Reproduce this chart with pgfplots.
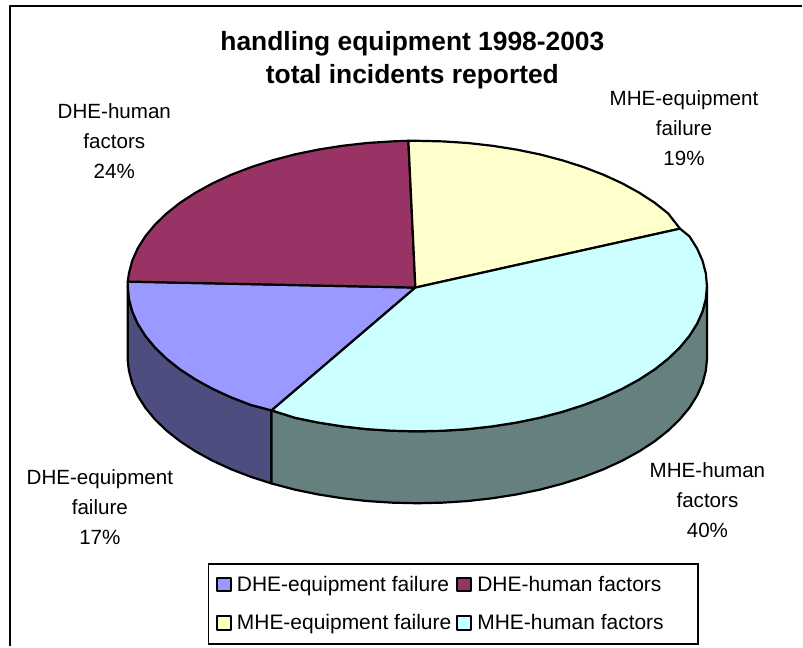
\documentclass[border=0pt]{standalone}
\usepackage{pgfplots}
\usepackage{fontspec}
\setmainfont{Liberation Sans}
\pgfplotsset{compat=1.18}
\definecolor{deq}{HTML}{9999FF}
\definecolor{dhu}{HTML}{993366}
\definecolor{meq}{HTML}{FFFFCC}
\definecolor{mhu}{HTML}{CCFFFF}
\definecolor{deqw}{HTML}{4D4D80}
\definecolor{mhuw}{HTML}{668080}
\begin{document}
\begin{tikzpicture}[x=1pt,y=1pt]
\begin{axis}[
  scale only axis, width=803pt, height=647pt,
  xmin=0, xmax=803, ymin=0, ymax=647, y dir=reverse,
  hide axis, clip=false,
  legend columns=2,
  legend cell align=left,
  legend style={at={(axis cs:208,564)}, anchor=north west, draw=black, line width=1.5pt,
    inner xsep=7.5pt, inner ysep=10.5pt,
    font=\fontsize{21}{24}\selectfont,
    nodes={inner xsep=3.5pt, inner ysep=2pt, text depth=0.2em},
    row sep=17pt,
    column sep=1.5pt},
  legend image code/.code={\draw[#1, line width=2pt, draw=black] (0pt,-6.5pt) rectangle (14pt,7.5pt);},
  every axis plot/.append style={draw=black, line width=2.2pt, line join=round},
]
\path (axis cs:0,0) rectangle (axis cs:803,647);
% frame
\addplot[forget plot, line width=2.4pt, line cap=butt] coordinates {(10,647) (10,6) (803,6)};
% wall DHE-equipment failure
\addplot[forget plot, fill=deqw] coordinates {(128,286.5)(128,362)(129.1,371.2)(132.4,383.8)(137.9,396.2)(145.5,408.3)(155.2,420)(166.9,431.3)(180.4,442)(195.8,452)(212.9,461.4)(231.6,470)(251.7,477.7)(272,484.2)(272,411)(251.7,405.7)(231.6,398)(212.9,389.4)(195.8,380)(180.4,370)(166.9,359.3)(155.2,348)(145.5,336.3)(137.9,324.2)(132.4,311.8)(129.1,299.2)} --cycle;
% wall MHE-human factors
\addplot[forget plot, fill=mhuw] coordinates {(272,411)(272,484.2)(295.4,490.4)(318.8,495.2)(342.9,499)(367.6,501.8)(392.7,503.4)(418,504)(443.3,503.4)(468.4,501.8)(493.1,499)(517.2,495.2)(540.6,490.4)(563,484.5)(584.3,477.7)(604.4,470)(623.1,461.4)(640.2,452)(655.6,442)(669.1,431.3)(680.8,420)(690.5,408.3)(698.1,396.2)(703.6,383.8)(706.9,371.2)(708,360)(708,286.5)(706.9,299.2)(703.6,311.8)(698.1,324.2)(690.5,336.3)(680.8,348)(669.1,359.3)(655.6,370)(640.2,380)(623.1,389.4)(604.4,398)(584.3,405.7)(563,412.5)(540.6,418.4)(517.2,423.2)(493.1,427)(468.4,429.8)(443.3,431.4)(418,432)(392.7,431.4)(367.6,429.8)(342.9,427)(318.8,423.2)(295.4,418.4)} --cycle;
% top: DHE-equipment failure
\addplot[fill=deq] coordinates {(416,288)(128,282)(128,286.5)(129.1,299.2)(132.4,311.8)(137.9,324.2)(145.5,336.3)(155.2,348)(166.9,359.3)(180.4,370)(195.8,380)(212.9,389.4)(231.6,398)(251.7,405.7)(272,411)} --cycle;
\addlegendentry{DHE-equipment failure}
% top: DHE-human factors
\addplot[fill=dhu] coordinates {(416,288)(409,141)(392.7,141.6)(367.6,143.2)(342.9,146)(318.8,149.8)(295.4,154.6)(273,160.5)(251.7,167.3)(231.6,175)(212.9,183.6)(195.8,193)(180.4,203)(166.9,213.7)(155.2,225)(145.5,236.7)(137.9,248.8)(132.4,261.2)(129.1,273.8)(128,282)} --cycle;
\addlegendentry{DHE-human factors\hspace*{25.5pt}}
% top: MHE-equipment failure
\addplot[fill=meq] coordinates {(416,288)(681,229)(669.1,213.7)(655.6,203)(640.2,193)(623.1,183.6)(604.4,175)(584.3,167.3)(563,160.5)(540.6,154.6)(517.2,149.8)(493.1,146)(468.4,143.2)(443.3,141.6)(418,141)(409,141)} --cycle;
\addlegendentry{MHE-equipment failure}
% top: MHE-human factors
\addplot[fill=mhu] coordinates {(416,288)(272,411)(295.4,418.4)(318.8,423.2)(342.9,427)(367.6,429.8)(392.7,431.4)(418,432)(443.3,431.4)(468.4,429.8)(493.1,427)(517.2,423.2)(540.6,418.4)(563,412.5)(584.3,405.7)(604.4,398)(623.1,389.4)(640.2,380)(655.6,370)(669.1,359.3)(680.8,348)(690.5,336.3)(698.1,324.2)(703.6,311.8)(706.9,299.2)(708,286.5)(706.9,273.8)(703.6,261.2)(698.1,248.8)(690.5,236.7)(681,229)} --cycle;
\addlegendentry{MHE-human factors}
% text
\node[align=center, font=\fontsize{26.4}{33.5}\selectfont\bfseries] at (axis cs:413,60) {handling equipment 1998-2003\\total incidents reported};
\tikzset{lab/.style={align=center, font=\fontsize{20.6}{30}\selectfont}}
\node[lab] at (axis cs:114.5,141) {DHE-human\\factors\\24\%};
\node[lab] at (axis cs:685,128.5) {MHE-equipment\\failure\\19\%};
\node[lab] at (axis cs:100,507.5) {DHE-equipment\\failure\\17\%};
\node[lab] at (axis cs:708.5,500.5) {MHE-human\\factors\\40\%};
\end{axis}
\end{tikzpicture}
\end{document}
